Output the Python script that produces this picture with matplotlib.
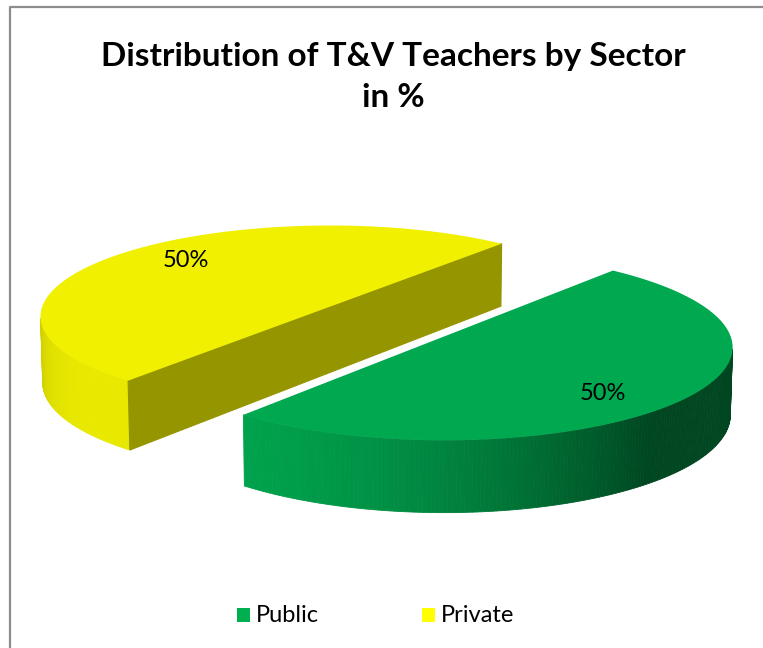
import numpy as np
import matplotlib.pyplot as plt
from matplotlib.patches import Polygon, Rectangle
from matplotlib.lines import Line2D

# sector shares (%)
labels = ['Public', 'Private']
values = [50, 50]
top_colors = ['#00A84F', '#F0F000']
legend_colors = ['#00B050', '#FFFF00']
title = 'Distribution of T&V Teachers by Sector\nin %'

# 3-D view settings
elev = np.radians(18.5)
dist = 12.0
thick = 0.245
explode = 0.257
start = np.radians(-50)
scale = 288
cx, cy = 382, 323
label_r, label_turn = 0.77, np.radians(7)

plt.rcParams['font.family'] = ['Lato', 'DejaVu Sans']

cam = np.array([0.0, dist * np.sin(elev), dist * np.cos(elev)])


def project(X, Y, Z):
    up = Y * np.cos(elev) - Z * np.sin(elev)
    depth = dist - (Y * np.sin(elev) + Z * np.cos(elev))
    s = dist / depth
    return cx + scale * X * s, cy - scale * up * s


def shade(hex_color, f):
    r, g, b = [int(hex_color[i:i + 2], 16) / 255 for i in (1, 3, 5)]
    return (min(r * f, 1), min(g * f, 1), min(b * f, 1))


light = np.array([-0.75, 0.0, 0.66])
light /= np.linalg.norm(light)

fig = plt.figure(figsize=(7.63, 6.48), dpi=100)
ax = fig.add_axes([0, 0, 1, 1])
ax.set_xlim(0, 763)
ax.set_ylim(648, 0)
ax.axis('off')

# chart frame (left and top edges)
ax.add_line(Line2D([9.5, 9.5, 763], [648, 7, 7], color='#8C8C8C', lw=1.6))

total = float(sum(values))
angles = [start]
for v in values:
    angles.append(angles[-1] + 2 * np.pi * v / total)

slices = []
for i, v in enumerate(values):
    a1, a2 = angles[i], angles[i + 1]
    mid = (a1 + a2) / 2
    ox, oz = explode * np.cos(mid), explode * np.sin(mid)
    slices.append((i, a1, a2, mid, ox, oz))

# back slices first
slices.sort(key=lambda s: s[5])

for i, a1, a2, mid, ox, oz in slices:
    base = top_colors[i]
    th = np.linspace(a1, a2, 240)

    # curved outer wall, strip by strip
    for t0, t1 in zip(th[:-1], th[1:]):
        tm = (t0 + t1) / 2
        n = np.array([np.cos(tm), 0, np.sin(tm)])
        p = np.array([ox + np.cos(tm), -thick / 2, oz + np.sin(tm)])
        if np.dot(n, cam - p) <= 0:
            continue
        f = 0.42 + 0.55 * max(0.0, np.dot(n, light))
        pts = [project(ox + np.cos(t), 0, oz + np.sin(t)) for t in (t0, t1)]
        pts += [project(ox + np.cos(t), -thick, oz + np.sin(t)) for t in (t1, t0)]
        ax.add_patch(Polygon(pts, closed=True, fc=shade(base, f), ec=shade(base, f), lw=0.6))

    # flat radial faces
    for ang, sgn in ((a1, 1), (a2, -1)):
        n = np.array([sgn * np.sin(ang), 0, -sgn * np.cos(ang)])
        p = np.array([ox + 0.5 * np.cos(ang), -thick / 2, oz + 0.5 * np.sin(ang)])
        if np.dot(n, cam - p) <= 0:
            continue
        pts = [project(ox, 0, oz), project(ox + np.cos(ang), 0, oz + np.sin(ang)),
               project(ox + np.cos(ang), -thick, oz + np.sin(ang)), project(ox, -thick, oz)]
        fc = shade(base, 0.62)
        ax.add_patch(Polygon(pts, closed=True, fc=fc, ec=fc, lw=0.8))

    # top face
    pts = [project(ox, 0, oz)] + [project(ox + np.cos(t), 0, oz + np.sin(t)) for t in th]
    ax.add_patch(Polygon(pts, closed=True, fc=base, ec='none'))

    # percentage label
    la = mid + label_turn
    lx, ly = project(ox + label_r * np.cos(la), 0, oz + label_r * np.sin(la))
    ax.text(lx, ly, f'{values[i] / total * 100:.0f}%', ha='center', va='center',
            fontsize=17, color='black')

ax.text(393, 77, title, ha='center', va='center', fontsize=24, fontweight='bold',
        linespacing=1.5)

# legend
leg_x = [237, 422]
for i, name in enumerate(labels):
    ax.add_patch(Rectangle((leg_x[i], 608), 13, 14, fc=legend_colors[i], ec='none'))
    ax.text(leg_x[i] + 19, 615, name, ha='left', va='center', fontsize=17)

fig.savefig('out.png', dpi=100)
